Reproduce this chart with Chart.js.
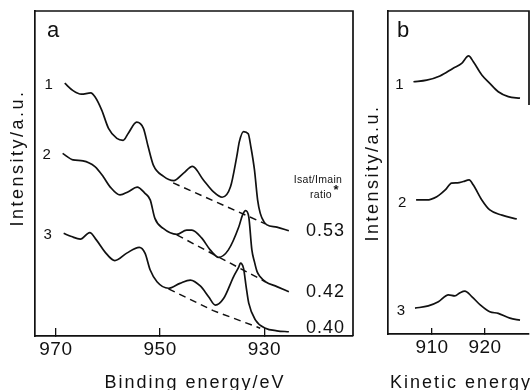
<!DOCTYPE html>
<html><head><meta charset="utf-8">
<script src="https://cdn.jsdelivr.net/npm/chart.js@4.4.1/dist/chart.umd.min.js"></script>
<style>
html,body{margin:0;padding:0;background:#fff;width:530px;height:390px;overflow:hidden}
#pa{position:absolute;left:0;top:0;width:365px;height:390px}
#pb{position:absolute;left:360px;top:0;width:170px;height:390px}
</style></head><body>
<div id="pa"><canvas id="ca"></canvas></div>
<div id="pb"><canvas id="cb"></canvas></div>
<script>
// ---------- Panel a: binding energy spectra ----------
const bindingTicks = [970, 950, 930];
const sampleLabels = ['1', '2', '3'];
const satRatios = [0.53, 0.42, 0.40];

const be1 = [968.3, 966.7, 965.1, 963.3, 962.5, 961.2, 959.9, 958.3, 957.1, 956.1, 954.5, 953.2, 952.3, 951.3, 949.4, 947.4, 945.5, 943.8, 941.7, 939.8, 938.1, 936.5, 935.3, 934.8, 934.0, 933.1, 932.6, 931.9, 931.3, 930.8, 930.1, 929.5, 927.6, 925.3];
const int1 = [77.8, 75.5, 74.4, 74.8, 73.6, 69.5, 63.9, 60.8, 60.2, 62.4, 65.8, 63.9, 58.3, 52.6, 49.2, 47.8, 50.1, 52.2, 48.0, 44.4, 42.7, 45.9, 55.2, 59.8, 62.9, 62.2, 58.3, 51.1, 41.9, 37.8, 35.2, 34.2, 33.5, 32.4];

const be2 = [968.7, 966.7, 964.8, 962.5, 960.9, 959.6, 957.7, 956.1, 954.4, 952.9, 951.9, 951.0, 949.4, 946.8, 944.9, 943.9, 942.0, 940.4, 938.8, 936.9, 934.9, 934.2, 933.6, 933.0, 932.4, 931.9, 931.4, 930.8, 929.8, 927.6, 925.3];
const int2 = [56.2, 54.2, 53.9, 52.1, 49.0, 45.9, 43.4, 44.4, 45.8, 43.9, 41.9, 36.2, 33.1, 31.3, 32.6, 32.6, 30.1, 26.5, 24.2, 26.5, 33.6, 37.2, 38.6, 36.7, 26.5, 22.8, 19.8, 18.2, 16.7, 15.2, 13.6];

const be3 = [968.5, 967.0, 965.3, 963.5, 962.2, 960.6, 958.7, 956.4, 954.0, 952.9, 951.9, 950.6, 948.4, 946.2, 944.2, 942.3, 940.7, 939.4, 937.8, 935.9, 934.9, 934.6, 934.0, 933.5, 933.0, 931.7, 929.8, 927.6, 925.3];
const int3 = [31.6, 30.6, 29.8, 31.8, 29.5, 25.9, 23.2, 25.5, 27.3, 25.5, 20.3, 16.7, 14.7, 16.2, 17.2, 15.4, 12.1, 9.5, 11.6, 18.3, 21.3, 22.4, 20.8, 15.2, 10.1, 4.9, 2.4, 1.6, 1.3];

// dashed backgrounds under the satellites
const bg1E = [947.5, 929.8], bg1I = [47.1, 34.5];
const bg2E = [946.8, 929.8], bg2I = [31.1, 16.7];
const bg3E = [948.4, 939.8, 930.8], bg3I = [14.5, 7.8, 2.4];

// ---------- Panel b: kinetic energy spectra ----------
const kineticTicks = [910, 920];
const ke1 = [906.5, 909.0, 911.5, 914.0, 915.6, 916.9, 917.8, 919.4, 920.9, 922.5, 924.4, 926.6];
const kint1 = [78.1, 78.6, 79.9, 82.3, 83.8, 86.1, 84.3, 80.2, 77.6, 75.0, 73.5, 73.0];
const ke2 = [907.0, 909.0, 910.9, 912.5, 913.7, 914.8, 915.9, 917.0, 917.8, 919.4, 920.9, 923.2, 926.0];
const kint2 = [41.5, 41.5, 42.5, 44.6, 46.7, 46.8, 47.2, 47.7, 46.1, 41.5, 38.4, 36.8, 35.6];
const ke3 = [906.8, 909.3, 911.2, 913.1, 914.3, 915.3, 916.2, 917.5, 919.1, 920.9, 922.5, 924.7, 926.6];
const kint3 = [8.0, 8.7, 10.0, 12.1, 11.8, 12.8, 13.3, 11.6, 9.0, 6.9, 6.4, 4.9, 4.3];

const FF = "'Liberation Sans', Arial, Helvetica, sans-serif";
const INK = '#111';
Chart.defaults.font.family = FF;

function mk(xs, ys, dashed) {
  return {
    data: xs.map((x, i) => ({x: x, y: ys[i]})),
    borderColor: INK, borderWidth: dashed ? 1.5 : 1.7,
    borderDash: dashed ? [7, 5] : [],
    pointRadius: 0, fill: false,
    cubicInterpolationMode: dashed ? 'default' : 'monotone',
    tension: dashed ? 0 : 0.4
  };
}

function put(ctx, t, x, y, font, ls, align, rot) {
  ctx.save();
  ctx.font = font; ctx.letterSpacing = ls; ctx.textAlign = align; ctx.textBaseline = 'middle';
  ctx.translate(x, y);
  if (rot) ctx.rotate(rot);
  ctx.fillStyle = INK;
  ctx.fillText(t, 0, 0);
  ctx.restore();
}

const spacingPlugin = { id: 'spacing', beforeDraw(chart) { chart.ctx.letterSpacing = '0.5px'; } };

function xAxis(min, max, reverse, ticksArr, h, tl) {
  return {
    type: 'linear', min: min, max: max, reverse: reverse,
    afterBuildTicks: s => { s.ticks = ticksArr.map(v => ({value: v})); },
    afterFit: s => { s.height = h; },
    grid: {display: true, drawOnChartArea: false, drawTicks: true, tickLength: -tl, color: INK, lineWidth: 1.3},
    border: {display: true, color: INK, width: 1.7},
    ticks: {color: INK, font: {family: FF, size: 19, lineHeight: 1}, padding: 12.5 + (tl - 8), maxRotation: 0, autoSkip: false}
  };
}
function yAxis(w) {
  return {
    min: 0, max: 100,
    afterFit: s => { s.width = w; },
    grid: {display: false},
    border: {display: true, color: INK, width: 1.7},
    ticks: {display: false}
  };
}
const baseOpts = {
  responsive: true, maintainAspectRatio: false, animation: false, devicePixelRatio: 1,
  plugins: {legend: {display: false}, tooltip: {enabled: false}}
};

// ---------- Chart a ----------
const curvesA = [{e: be1, i: int1}, {e: be2, i: int2}, {e: be3, i: int3}];
new Chart(document.getElementById('ca'), {
  type: 'line',
  data: {datasets: [
    mk(be1, int1, false), mk(be2, int2, false), mk(be3, int3, false),
    mk(bg1E, bg1I, true), mk(bg2E, bg2I, true), mk(bg3E, bg3I, true)
  ]},
  options: Object.assign({}, baseOpts, {
    layout: {padding: {left: 0, top: 11, right: 12, bottom: 0}},
    scales: {x: xAxis(913, 974, true, bindingTicks, 54, 8), y: yAxis(35)}
  }),
  plugins: [spacingPlugin, {
    id: 'decorA',
    afterDraw(chart) {
      const {ctx, chartArea: a, scales: {x, y}} = chart;
      ctx.save();
      ctx.strokeStyle = INK; ctx.lineWidth = 1.7;
      ctx.beginPath(); ctx.moveTo(a.left, a.top); ctx.lineTo(a.right, a.top); ctx.lineTo(a.right, a.bottom); ctx.stroke();
      ctx.restore();
      put(ctx, 'a', 53, 31, `22px ${FF}`, '0px', 'center');
      curvesA.forEach((c, k) => {
        put(ctx, sampleLabels[k], x.getPixelForValue(c.e[0]) - 16, y.getPixelForValue(c.i[0]) + 2, `15px ${FF}`, '0px', 'center');
        const n = c.e.length - 1;
        put(ctx, satRatios[k].toFixed(2), x.getPixelForValue(c.e[n]) + 17, y.getPixelForValue(c.i[n]) + [0, 0, -4][k], `18px ${FF}`, '1px', 'left');
      });
      put(ctx, 'Isat/Imain', 318, 180, `10.5px ${FF}`, '0.3px', 'center');
      put(ctx, 'ratio', 321, 195, `10.5px ${FF}`, '0.3px', 'center');
      put(ctx, '*', 336, 190, `bold 13px ${FF}`, '0px', 'center');
      put(ctx, 'Intensity/a.u.', 18.5, 158, `18px ${FF}`, '2.5px', 'center', -Math.PI / 2);
      put(ctx, 'Binding energy/eV', (a.left + a.right) / 2 + 1, 383, `18px ${FF}`, '2px', 'center');
    }
  }]
});

// ---------- Chart b ----------
const curvesB = [{e: ke1, i: kint1}, {e: ke2, i: kint2}, {e: ke3, i: kint3}];
new Chart(document.getElementById('cb'), {
  type: 'line',
  data: {datasets: [mk(ke1, kint1, false), mk(ke2, kint2, false), mk(ke3, kint3, false)]},
  options: Object.assign({}, baseOpts, {
    layout: {padding: {left: 0, top: 11, right: 1, bottom: 0}},
    scales: {x: xAxis(901.7, 928.3, false, kineticTicks, 56, 6), y: yAxis(28)}
  }),
  plugins: [spacingPlugin, {
    id: 'decorB',
    afterDraw(chart) {
      const {ctx, chartArea: a, scales: {x, y}} = chart;
      ctx.save();
      ctx.strokeStyle = INK; ctx.lineWidth = 1.7;
      ctx.beginPath(); ctx.moveTo(a.left, a.top); ctx.lineTo(a.right, a.top); ctx.lineTo(a.right, 105); ctx.stroke();
      ctx.restore();
      put(ctx, 'b', 43, 31, `22px ${FF}`, '0px', 'center');
      curvesB.forEach((c, k) => {
        put(ctx, sampleLabels[k], x.getPixelForValue(c.e[0]) - 14, y.getPixelForValue(c.i[0]) + 3, `15px ${FF}`, '0px', 'center');
      });
      put(ctx, 'Intensity/a.u.', 13, 173, `18px ${FF}`, '2.5px', 'center', -Math.PI / 2);
      put(ctx, 'Kinetic energy/eV', 30, 383, `18px ${FF}`, '2px', 'left');
    }
  }]
});
</script>
</body></html>
